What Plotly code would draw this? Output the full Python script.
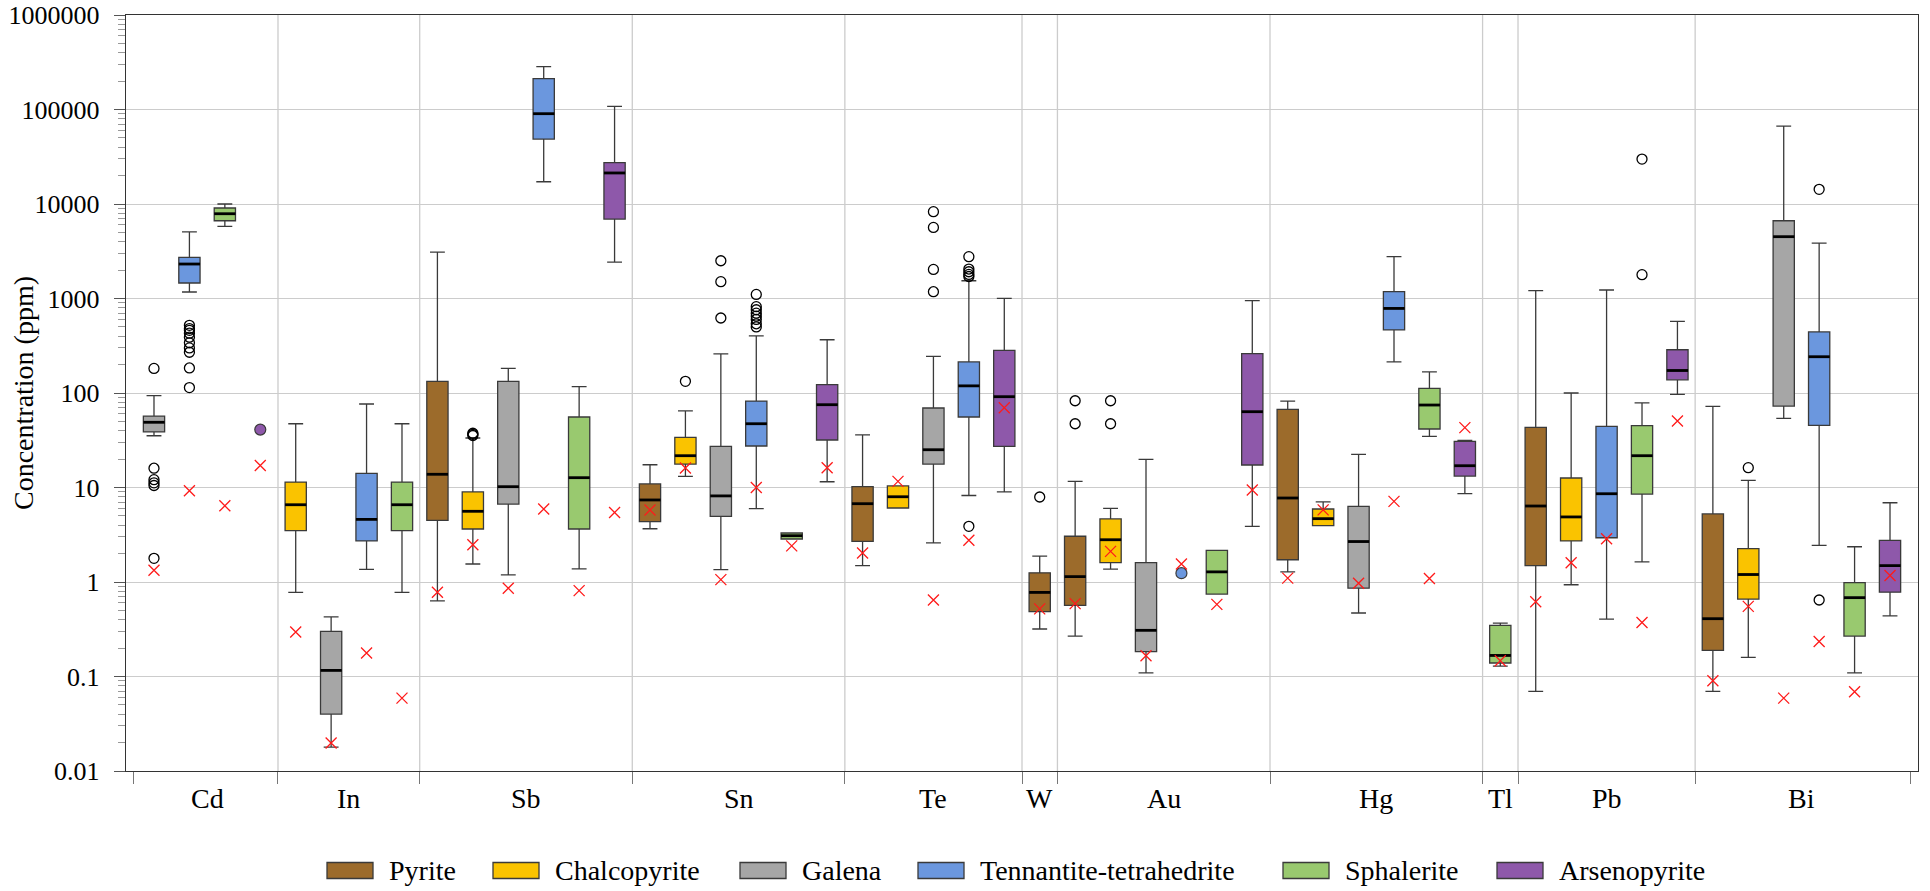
import plotly.graph_objects as go

# ---------------------------------------------------------------------------
# Minerals
# ---------------------------------------------------------------------------
mineral_codes = ["Py", "Ccp", "Gn", "Tn", "Sp", "Apy"]
mineral_names = ["Pyrite", "Chalcopyrite", "Galena", "Tennantite-tetrahedrite",
                 "Sphalerite", "Arsenopyrite"]
mineral_colors = ["#9C6B2B", "#FAC300", "#A6A6A6", "#6B97DE", "#99C96F", "#8E58AA"]

# ---------------------------------------------------------------------------
# One slot per element/mineral pair, in plotting order
# ---------------------------------------------------------------------------
slot_element = ["Cd", "Cd", "Cd", "Cd",
                "In", "In", "In", "In",
                "Sb", "Sb", "Sb", "Sb", "Sb", "Sb",
                "Sn", "Sn", "Sn", "Sn", "Sn", "Sn",
                "Te", "Te", "Te", "Te", "Te",
                "W",
                "Au", "Au", "Au", "Au", "Au", "Au",
                "Hg", "Hg", "Hg", "Hg", "Hg", "Hg",
                "Tl",
                "Pb", "Pb", "Pb", "Pb", "Pb",
                "Bi", "Bi", "Bi", "Bi", "Bi", "Bi"]
slot_mineral = ["Gn", "Tn", "Sp", "Apy",
                "Ccp", "Gn", "Tn", "Sp",
                "Py", "Ccp", "Gn", "Tn", "Sp", "Apy",
                "Py", "Ccp", "Gn", "Tn", "Sp", "Apy",
                "Py", "Ccp", "Gn", "Tn", "Apy",
                "Py",
                "Py", "Ccp", "Gn", "Tn", "Sp", "Apy",
                "Py", "Ccp", "Gn", "Tn", "Sp", "Apy",
                "Sp",
                "Py", "Ccp", "Tn", "Sp", "Apy",
                "Py", "Ccp", "Gn", "Tn", "Sp", "Apy"]

# Box statistics (ppm)
whisker_low = [35.3, 1172, 5790, 41,
               0.776, 0.0179, 1.36, 0.776,
               0.632, 1.55, 1.19, 17200, 1.38, 2430,
               3.66, 13.1, 1.35, 5.97, 2.85, 11.5,
               1.49, 6.07, 2.59, 8.23, 8.98,
               0.318,
               0.268, 1.37, 0.109, 1.24, 0.746, 3.88,
               1.28, 3.95, 0.47, 213, 34.8, 8.6,
               0.129,
               0.0695, 0.935, 0.405, 1.63, 96.6,
               0.0695, 0.159, 53.8, 2.44, 0.109, 0.437]
q1 = [38.7, 1459, 6650, 41,
      3.49, 0.040, 2.72, 3.49,
      4.48, 3.64, 6.68, 48700, 3.64, 6930,
      4.35, 17.7, 4.94, 27.5, 2.85, 31.8,
      2.69, 6.07, 17.7, 55.7, 27.2,
      0.485,
      0.566, 1.60, 0.183, 1.24, 0.746, 17.3,
      1.72, 3.95, 0.86, 465, 41.6, 13.2,
      0.139,
      1.49, 2.72, 2.94, 8.53, 138,
      0.189, 0.66, 72.8, 45.4, 0.268, 0.78]
median = [49, 2316, 7890, 41,
          6.57, 0.116, 4.6, 6.57,
          13.8, 5.6, 10.2, 90300, 12.7, 21300,
          7.38, 21.7, 8.15, 47.3, 3.09, 75.2,
          6.74, 7.98, 25.1, 119, 91.4,
          0.776,
          1.14, 2.80, 0.308, 1.24, 1.28, 63.4,
          7.74, 4.68, 2.68, 785, 74.6, 17.0,
          0.167,
          6.37, 4.88, 8.59, 21.7, 173,
          0.409, 1.20, 4510, 242, 0.683, 1.49]
q3 = [57, 2720, 9070, 41,
      11.4, 0.30, 14.1, 11.4,
      133, 8.97, 133, 211800, 55.7, 27400,
      10.9, 33.9, 27.2, 82.2, 3.30, 122.5,
      10.2, 10.4, 69.4, 213, 282,
      1.25,
      3.05, 4.65, 1.60, 1.24, 2.16, 261,
      67.1, 5.92, 6.31, 1180, 112, 30.8,
      0.347,
      43.3, 12.6, 44.3, 45.1, 287,
      5.25, 2.25, 6650, 443, 0.985, 2.76]
whisker_high = [94, 5060, 10000, 41,
                47.3, 0.427, 76.5, 47.3,
                3100, 33.4, 182, 283800, 117, 107900,
                17.4, 64.6, 259, 403, 3.30, 366,
                36, 10.4, 244, 1542, 1002,
                1.88,
                11.6, 6.01, 19.8, 1.24, 2.16, 948,
                82.2, 7.03, 22.4, 2770, 167, 31.5,
                0.368,
                1210, 100, 1230, 78.8, 573,
                72.1, 11.9, 66800, 3860, 2.36, 6.9]

# Values marked with red crosses (ppm)
cross_ppm = [1.33, 9.25, 6.4, 17.1,
             0.296, 0.0198, 0.177, 0.059,
             0.78, 2.48, 0.86, 5.92, 0.81, 5.44,
             5.78, 16.1, 1.06, 10.0, 2.41, 16.2,
             2.03, 11.6, 0.645, 2.76, 69.9,
             0.52,
             0.59, 2.11, 0.166, 1.55, 0.58, 9.42,
             1.10, 5.8, 0.97, 7.13, 1.09, 43,
             0.147,
             0.618, 1.6, 2.87, 0.373, 50.6,
             0.090, 0.552, 0.059, 0.235, 0.069, 1.17]

# Outliers (ppm)
outlier_element = (["Cd"] * 6 + ["Cd"] * 10 + ["Sb"] * 3 + ["Sn"] + ["Sn"] * 3 +
                   ["Sn"] * 8 + ["Te"] * 4 + ["Te"] * 6 + ["W"] + ["Au"] * 4 +
                   ["Pb"] * 2 + ["Bi"] + ["Bi"] * 2)
outlier_mineral = (["Gn"] * 6 + ["Tn"] * 10 + ["Ccp"] * 3 + ["Ccp"] + ["Gn"] * 3 +
                   ["Tn"] * 8 + ["Gn"] * 4 + ["Tn"] * 6 + ["Py"] + ["Py", "Py", "Ccp", "Ccp"] +
                   ["Sp"] * 2 + ["Ccp"] + ["Tn"] * 2)
outlier_ppm = [182, 16, 12.1, 11.2, 10.5, 1.78,
               114, 184, 270, 300, 340, 390, 430, 460, 480, 520,
               35.5, 36.5, 37.5,
               133,
               2510, 1507, 622,
               1104, 820, 760, 700, 650, 600, 540, 500,
               8300, 5650, 2033, 1180,
               2770, 2050, 1920, 1800, 1710, 3.88,
               7.93,
               82.8, 47.3, 82.8, 47.3,
               29900, 1786,
               16.2,
               14290, 0.645]

y_tick_values = [0.01, 0.1, 1, 10, 100, 1000, 10000, 100000, 1000000]
y_tick_labels = ["0.01", "0.1", "1", "10", "100", "1000", "10000", "100000", "1000000"]

# ---------------------------------------------------------------------------
# Layout geometry
# ---------------------------------------------------------------------------
FIG_W, FIG_H = 1930, 891
PLOT_L, PLOT_R, PLOT_T, PLOT_B = 126, 1918, 15, 771
FONT = "Liberation Serif"
BOX_W = 0.6
RANGE_PAD = 0.79
EDGE_TICK = 0.58


def px_x(p):
    return (p - PLOT_L) / (PLOT_R - PLOT_L)


def px_y(p):
    return (PLOT_B - p) / (PLOT_B - PLOT_T)


n_slots = len(slot_element)
slot_x = list(range(n_slots))
slot_lookup = {(e, m): i for i, (e, m) in enumerate(zip(slot_element, slot_mineral))}

# Element groups
groups = []
for i, e in enumerate(slot_element):
    if not groups or groups[-1][0] != e:
        groups.append([e, i, i])
    else:
        groups[-1][2] = i
inner_bounds = [g[2] + 0.5 for g in groups[:-1]]
tick_bounds = [-EDGE_TICK] + inner_bounds + [n_slots - 1 + EDGE_TICK]

fig = go.Figure()

# Boxes, one trace per mineral
for code, name, color in zip(mineral_codes, mineral_names, mineral_colors):
    idx = [i for i in slot_x if slot_mineral[i] == code and whisker_low[i] != whisker_high[i]]
    if not idx:
        continue
    fig.add_trace(go.Box(
        x=idx,
        q1=[q1[i] for i in idx],
        median=[median[i] for i in idx],
        q3=[q3[i] for i in idx],
        lowerfence=[whisker_low[i] for i in idx],
        upperfence=[whisker_high[i] for i in idx],
        width=BOX_W,
        whiskerwidth=0.7,
        boxpoints=False,
        fillcolor=color,
        line=dict(color="#3a3a3a", width=1.3),
        name=name,
        showlegend=False,
        hoverinfo="skip",
    ))

# Thick median bars
med_x, med_y = [], []
for i in slot_x:
    if whisker_low[i] != whisker_high[i]:
        med_x += [i - BOX_W / 2, i + BOX_W / 2, None]
        med_y += [median[i], median[i], None]
fig.add_trace(go.Scatter(x=med_x, y=med_y, mode="lines",
                         line=dict(color="black", width=2.8),
                         showlegend=False, hoverinfo="skip"))

# Single-sample minerals drawn as dots
for code, color in zip(mineral_codes, mineral_colors):
    idx = [i for i in slot_x if slot_mineral[i] == code and whisker_low[i] == whisker_high[i]]
    if idx:
        fig.add_trace(go.Scatter(
            x=idx, y=[median[i] for i in idx], mode="markers",
            marker=dict(symbol="circle", size=11, color=color,
                        line=dict(color="#3a3a3a", width=1.2)),
            showlegend=False, hoverinfo="skip"))

# Outliers
fig.add_trace(go.Scatter(
    x=[slot_lookup[(e, m)] for e, m in zip(outlier_element, outlier_mineral)],
    y=outlier_ppm, mode="markers",
    marker=dict(symbol="circle-open", size=10, color="black", line=dict(width=1.3)),
    showlegend=False, hoverinfo="skip"))

# Red crosses
fig.add_trace(go.Scatter(
    x=slot_x, y=cross_ppm, mode="markers",
    marker=dict(symbol="x-thin-open", size=11, color="#ff1a1a", line=dict(width=1.3, color="#ff1a1a")),
    showlegend=False, hoverinfo="skip"))

shapes = []
annotations = []

# Vertical separators between element groups
for b in inner_bounds:
    shapes.append(dict(type="line", xref="x", yref="paper", x0=b, x1=b, y0=0, y1=1,
                       line=dict(color="#cccccc", width=1.3), layer="below"))

# Element names under the axis
for e, a, b in groups:
    annotations.append(dict(x=(a + b) / 2, y=px_y(798), xref="x", yref="paper",
                            text=e, showarrow=False, xanchor="center", yanchor="middle",
                            font=dict(family=FONT, size=28, color="black")))

# Y-axis title
annotations.append(dict(x=px_x(23), y=0.5, xref="paper", yref="paper",
                        text="Concentration (ppm)", textangle=-90, showarrow=False,
                        xanchor="center", yanchor="middle",
                        font=dict(family=FONT, size=28, color="black")))

# Legend
legend_left_px = [327, 493, 740, 918, 1283, 1497]
for left, name, color in zip(legend_left_px, mineral_names, mineral_colors):
    shapes.append(dict(type="rect", xref="paper", yref="paper",
                       x0=px_x(left), x1=px_x(left + 46), y0=px_y(878.5), y1=px_y(862.5),
                       fillcolor=color, line=dict(color="#3a3a3a", width=1.3)))
    annotations.append(dict(x=px_x(left + 60), y=px_y(870), xref="paper", yref="paper",
                            text=name, showarrow=False, xanchor="left", yanchor="middle",
                            font=dict(family=FONT, size=28, color="black")))

fig.update_layout(
    width=FIG_W, height=FIG_H,
    margin=dict(l=PLOT_L, r=FIG_W - PLOT_R, t=PLOT_T, b=FIG_H - PLOT_B),
    paper_bgcolor="white", plot_bgcolor="white",
    boxmode="overlay",
    showlegend=False,
    shapes=shapes,
    annotations=annotations,
    font=dict(family=FONT, color="black"),
    xaxis=dict(range=[-RANGE_PAD, n_slots - 1 + RANGE_PAD], automargin=False,
               tickmode="array", tickvals=tick_bounds, ticktext=[""] * len(tick_bounds),
               ticks="outside", ticklen=12, tickcolor="#777777", tickwidth=1.2,
               showgrid=False, zeroline=False,
               showline=True, mirror=True, linecolor="#333333", linewidth=1.4),
    yaxis=dict(type="log", range=[-2, 6], automargin=False,
               tickmode="array", tickvals=y_tick_values, ticktext=y_tick_labels,
               ticks="outside", ticklen=11, tickcolor="#555555", tickwidth=1.2,
               ticklabelstandoff=9,
               tickfont=dict(family=FONT, size=26, color="black"),
               showgrid=True, gridcolor="#cccccc", gridwidth=1.3,
               zeroline=False,
               showline=True, mirror=True, linecolor="#333333", linewidth=1.4,
               minor=dict(dtick="D1", ticks="outside", ticklen=7,
                          tickcolor="#999999", tickwidth=1, showgrid=False)),
)

fig.write_html("out.html")
